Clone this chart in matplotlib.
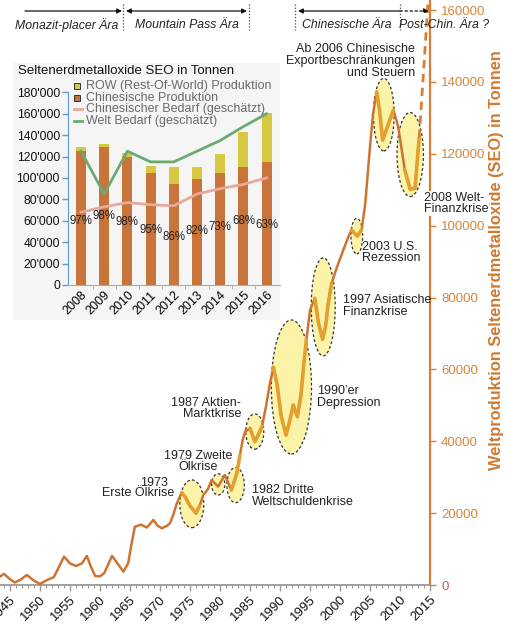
import numpy as np
import matplotlib
matplotlib.use("Agg")
import matplotlib.pyplot as plt
from matplotlib.patches import Ellipse, Rectangle, FancyArrowPatch
from matplotlib.lines import Line2D
from matplotlib.ticker import MultipleLocator, FixedLocator

plt.rcParams['font.family'] = ['Liberation Sans', 'DejaVu Sans']

# ---------------- main series: world REO production (tonnes) ----------------
years = [1943.3, 1944.0, 1945.0, 1945.8, 1946.8, 1947.8, 1949.0, 1950.0, 1951.2, 1952.3,
         1953.0, 1954.0, 1955.0, 1956.0, 1957.0, 1957.8, 1958.5, 1959.2, 1960.0, 1960.7,
         1962.0, 1963.0, 1963.9, 1964.7, 1965.2, 1965.8, 1966.8, 1967.8, 1968.9, 1969.6,
         1970.3, 1971.2, 1971.7, 1972.3, 1972.8, 1973.6, 1974.2, 1975.0, 1976.0, 1976.6,
         1977.2, 1978.0, 1978.6, 1979.7, 1980.8, 1981.9, 1982.8, 1983.3, 1983.8, 1984.2,
         1985.0, 1985.8, 1986.3, 1987.0, 1987.7, 1988.3, 1988.9, 1989.5, 1990.2, 1991.0,
         1991.6, 1992.2, 1992.9, 1993.5, 1994.0, 1994.4, 1995.0, 1995.8, 1996.4, 1997.1,
         1997.6, 1998.0, 1998.6, 1999.5, 2000.5, 2001.3, 2001.9, 2002.9, 2003.6, 2004.2,
         2004.6, 2005.0, 2005.5, 2006.1, 2006.6, 2007.1, 2008.0, 2008.9, 2009.7, 2010.8,
         2011.7, 2012.5, 2013.2]
production = [2300, 3100, 1600, 700, 1500, 2800, 1200, 300, 1400, 2200,
              4500, 7900, 6000, 5300, 6000, 8100, 5000, 2500, 2400, 3300,
              8100, 5800, 3700, 6100, 11000, 16200, 16800, 16000, 18100, 16500,
              15800, 16500, 17300, 20000, 22700, 25700, 24500, 22000, 20000, 22000,
              25000, 26700, 29200, 27400, 30600, 26400, 31100, 36000, 40500, 42700,
              43600, 39900, 41500, 44100, 50000, 56000, 60600, 56000, 47000, 41700,
              45500, 50100, 46800, 53000, 62000, 68200, 76500, 79800, 73000, 68400,
              72000, 78000, 84000, 88500, 93000, 96500, 98800, 97100, 98800, 106000,
              114000, 122000, 131000, 137300, 132000, 123800, 128000, 132200, 127500, 115500,
              110100, 110400, 124500]
outlook_years = [2013.2, 2014.7]
outlook_values = [124500, 162800]

# crisis highlights: centre year, centre value, width (years), height (tonnes)
crisis_cx = [1975.3, 1979.7, 1982.6, 1985.8, 1991.9, 1997.2, 2002.8, 2007.3, 2011.7]
crisis_cy = [22600, 28000, 27800, 42700, 55100, 77400, 97100, 130900, 119800]
crisis_w = [4.0, 2.2, 2.9, 3.0, 6.7, 4.0, 1.95, 3.45, 4.4]
crisis_h = [13300, 5900, 9800, 9800, 37300, 27300, 9900, 20200, 23400]

# ---------------- inset: 2008-2016 ----------------
inset_years = ['2008', '2009', '2010', '2011', '2012', '2013', '2014', '2015', '2016']
china_prod = [125000, 129000, 120000, 104500, 94500, 99000, 104500, 110500, 115000]
row_prod = [4000, 3000, 3500, 7000, 16000, 11500, 18000, 32000, 45500]
china_demand = [68000, 73000, 77000, 75000, 74000, 85000, 90000, 94000, 100000]
world_demand = [125000, 85000, 125000, 115000, 115000, 125000, 135000, 148000, 160000]
share_labels = ['97%', '98%', '98%', '95%', '86%', '82%', '73%', '68%', '63%']
share_label_y = [60000, 64500, 59000, 51500, 45000, 50000, 54500, 60000, 56500]

W, H = 509, 630
fig = plt.figure(figsize=(W / 100, H / 100), dpi=100)


def fx(x):
    return x / W


def fy(y):
    return 1 - y / H


ORANGE = '#cf7430'
HILITE = '#e3a030'
AXOR = '#d87f35'

# ---------------- main axes ----------------
ax = fig.add_axes([0, fy(585), fx(430), (585) / H])
ax.set_xlim(1943.33, 2015)
ax.set_ylim(0, 162800)
ax.set_facecolor('none')

for cx, cy, w, h in zip(crisis_cx, crisis_cy, crisis_w, crisis_h):
    ax.add_patch(Ellipse((cx, cy), w, h, facecolor='#fbf3a8', edgecolor='#333333',
                         linestyle=(0, (2.2, 1.8)), linewidth=0.9, zorder=2))

yrs = np.array(years)
prod = np.array(production, dtype=float)
ax.plot(yrs, prod, color=ORANGE, lw=1.8, zorder=3, solid_capstyle='round')
for cx, cy, w, h in zip(crisis_cx, crisis_cy, crisis_w, crisis_h):
    inside = ((yrs - cx) / (w / 2)) ** 2 + ((prod - cy) / (h / 2)) ** 2 <= 1.0
    inside |= np.abs(yrs - cx) <= w / 2 * 0.75
    ax.plot(yrs[inside], prod[inside], color=HILITE, lw=2.6, zorder=4,
            solid_capstyle='round')
ax.plot(outlook_years, outlook_values, color=AXOR, lw=2.0, ls=(0, (3, 2)),
        zorder=4, clip_on=False)

for s in ['left', 'top']:
    ax.spines[s].set_visible(False)
ax.spines['right'].set_color(AXOR)
ax.spines['right'].set_linewidth(1.6)
ax.spines['bottom'].set_color('#9a9a9a')
ax.spines['bottom'].set_linewidth(1.3)

ax.yaxis.tick_right()
ax.set_yticks(range(0, 160001, 20000))
ax.tick_params(axis='y', colors=AXOR, labelsize=9.5, length=4, width=1, pad=4)
for lab in ax.get_yticklabels():
    lab.set_color('#d9853e')
ax.get_yticklabels()[0].set_color('#d0584a')

ax.set_xticks(range(1945, 2016, 5))
ax.xaxis.set_minor_locator(MultipleLocator(1))
ax.tick_params(axis='x', which='major', colors='#9a9a9a', length=4, width=1,
               labelcolor='#111111', labelsize=9.5, pad=2)
ax.tick_params(axis='x', which='minor', colors='#9a9a9a', length=2.5, width=0.8)
for lab in ax.get_xticklabels():
    lab.set_rotation(45)
    lab.set_ha('right')
    lab.set_rotation_mode('anchor')

# annotations
tk = dict(fontsize=9, color='#222222', linespacing=0.95)
fig.text(fx(168), fy(482.7), '1973', ha='right', va='center', **tk)
fig.text(fx(174), fy(493.5), 'Erste Ölkrise', ha='right', va='center', **tk)
fig.text(fx(198), fy(461.3), '1979 Zweite\nÖlkrise', ha='center', va='center',
         multialignment='center', **tk)
fig.text(fx(252), fy(496), '1982 Dritte\nWeltschuldenkrise', ha='left', va='center', **tk)
fig.text(fx(241), fy(408.7), '1987 Aktien-\nMarktkrise', ha='right', va='center',
         multialignment='right', **tk)
fig.text(fx(317), fy(397), '1990’er\nDepression', ha='left', va='center', **tk)
fig.text(fx(343), fy(306), '1997 Asiatische\nFinanzkrise', ha='left', va='center', **tk)
fig.text(fx(362), fy(252.5), '2003 U.S.\nRezession', ha='left', va='center', **tk)
fig.text(fx(415), fy(61), 'Ab 2006 Chinesische\nExportbeschränkungen\nund Steuern',
         ha='right', va='center', multialignment='right', **tk)
fig.text(fx(424), fy(203.5), '2008 Welt-\nFinanzkrise', ha='left', va='center',
         bbox=dict(facecolor='white', edgecolor='none', pad=0.3), zorder=5, **tk)

fig.text(fx(497), fy(260), 'Weltproduktion Seltenerdmetalloxide (SEO) in Tonnen',
         rotation=90, ha='center', va='center', fontsize=11.8, fontweight='bold',
         color='#d07a30')

# era markers
def hline_arrow(x0, x1, y, style, ls='-'):
    a = FancyArrowPatch((fx(x0), fy(y)), (fx(x1), fy(y)), transform=fig.transFigure,
                        arrowstyle=style, mutation_scale=7, color='#111111',
                        lw=0.9, linestyle=ls, shrinkA=0, shrinkB=0)
    fig.add_artist(a)


hline_arrow(25, 122, 11, '-|>')
hline_arrow(126, 247, 11, '<|-|>')
hline_arrow(298, 400, 11, '<|-')
hline_arrow(400, 429, 11, '-|>', ls=(0, (2, 2)))
for xv in [123.3, 249.3, 295, 400]:
    fig.add_artist(Line2D([fx(xv), fx(xv)], [fy(4), fy(30)], transform=fig.transFigure,
                          color='#444444', lw=0.9, ls=(0, (1, 1.5))))
ek = dict(fontsize=8.8, style='italic', color='#222222', ha='center', va='center')
fig.text(fx(67), fy(25), 'Monazit-placer Ära', **ek)
fig.text(fx(186.7), fy(25), 'Mountain Pass Ära', **ek)
fig.text(fx(347), fy(25), 'Chinesische Ära', **ek)
fig.text(fx(444), fy(25), 'Post-Chin. Ära ?', **ek)

# ---------------- inset ----------------
fig.add_artist(Rectangle((fx(13), fy(320)), fx(280) - fx(13), fy(63) - fy(320),
                         transform=fig.transFigure, facecolor='#f5f5f5',
                         edgecolor='none', zorder=1))
ax2 = fig.add_axes([fx(68.3), fy(285), fx(211.7), 192.7 / H])
ax2.set_zorder(3)
ax2.set_facecolor('none')
xi = np.arange(len(inset_years))
ax2.bar(xi, china_prod, width=0.43, color='#c8743a', zorder=2)
ax2.bar(xi, row_prod, width=0.43, bottom=china_prod, color='#d6c840', zorder=2)
ax2.plot(xi, china_demand, color='#e9a899', lw=2, zorder=3)
ax2.plot(xi, world_demand, color='#6caa72', lw=2, zorder=3)
for i, (t, yv) in enumerate(zip(share_labels, share_label_y)):
    ax2.text(i, yv, t, ha='center', va='center', fontsize=8.3, color='#222222', zorder=4)
ax2.set_xlim(-0.547, 8.578)
ax2.set_ylim(0, 180000)
ax2.set_yticks(range(0, 180001, 20000))
ax2.set_yticklabels([f"{v:,}".replace(',', "'") for v in range(0, 180001, 20000)])
ax2.tick_params(axis='y', colors='#5b9bd5', labelcolor='#111111', labelsize=8.7,
                length=4, width=1, pad=2)
ax2.set_xticks(xi)
ax2.set_xticklabels(inset_years)
ax2.xaxis.set_minor_locator(FixedLocator(xi[:-1] + 0.5))
ax2.tick_params(axis='x', which='major', length=0, labelsize=9, pad=3)
ax2.tick_params(axis='x', which='minor', length=3, color='#aaaaaa')
for lab in ax2.get_xticklabels():
    lab.set_rotation(45)
    lab.set_ha('right')
    lab.set_rotation_mode('anchor')
for s in ['top', 'right']:
    ax2.spines[s].set_visible(False)
ax2.spines['left'].set_color('#5b9bd5')
ax2.spines['bottom'].set_color('#aaaaaa')

fig.text(fx(18.3), fy(70.5), 'Seltenerdmetalloxide SEO in Tonnen', ha='left', va='center',
         fontsize=9.5, color='#111111', zorder=4)
leg_items = [('patch', '#d6c840', 'ROW (Rest-Of-World) Produktion'),
             ('patch', '#c8743a', 'Chinesische Produktion'),
             ('line', '#e9a899', 'Chinesischer Bedarf (geschätzt)'),
             ('line', '#6caa72', 'Welt Bedarf (geschätzt)')]
for k, (kind, col, lab) in enumerate(leg_items):
    yy = 86 + k * 11.7
    if kind == 'patch':
        fig.add_artist(Rectangle((fx(74), fy(yy + 3)), fx(6), 6 / H, transform=fig.transFigure,
                                 facecolor=col, edgecolor='#333333', lw=0.7, zorder=4))
    else:
        fig.add_artist(Line2D([fx(74), fx(82)], [fy(yy), fy(yy)], transform=fig.transFigure,
                              color=col, lw=2, zorder=4))
    fig.text(fx(86), fy(yy), lab, ha='left', va='center', fontsize=9,
             color='#6a6a6a', zorder=4)

fig.savefig('out.png', dpi=100)
